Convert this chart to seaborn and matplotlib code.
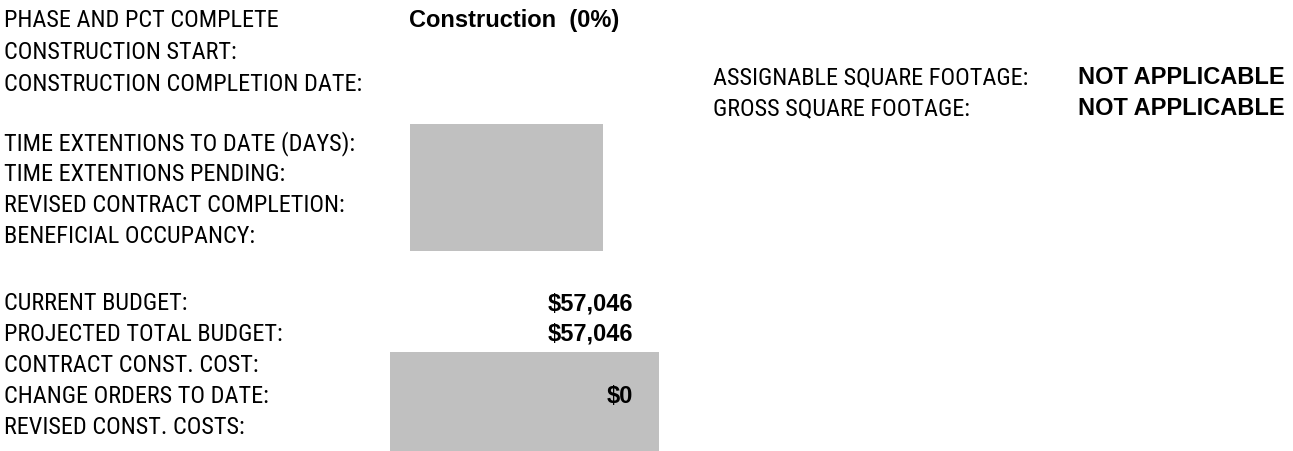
import matplotlib
matplotlib.use("Agg")
import matplotlib.pyplot as plt
from matplotlib import font_manager
import seaborn as sns

# form contents
phase_labels = ["PHASE AND PCT COMPLETE", "CONSTRUCTION START:", "CONSTRUCTION COMPLETION DATE:"]
phase_values = ["Construction  (0%)", "", ""]
time_labels = ["TIME EXTENTIONS TO DATE (DAYS):", "TIME EXTENTIONS PENDING:",
               "REVISED CONTRACT COMPLETION:", "BENEFICIAL OCCUPANCY:"]
budget_labels = ["CURRENT BUDGET:", "PROJECTED TOTAL BUDGET:", "CONTRACT CONST. COST:",
                 "CHANGE ORDERS TO DATE:", "REVISED CONST. COSTS:"]
budget_amounts = [57046, 57046, None, 0, None]
area_labels = ["ASSIGNABLE SQUARE FOOTAGE:", "GROSS SQUARE FOOTAGE:"]
area_values = ["NOT APPLICABLE", "NOT APPLICABLE"]

sns.set_theme(style="white")
plt.rcParams['font.family'] = ['Liberation Sans', 'DejaVu Sans']

names = {f.name for f in font_manager.fontManager.ttflist}
narrow = None
for cand in ["Liberation Sans Narrow", "Arial Narrow", "Roboto Condensed", "Open Sans Condensed"]:
    if cand in names:
        narrow = cand
        break
lab_family = [narrow, 'DejaVu Sans'] if narrow else ['DejaVu Sans']
val_kw = dict(family=['Liberation Sans', 'DejaVu Sans'], fontsize=17, fontweight='bold')

grey = "#C0C0C0"

fig = plt.figure(figsize=(12.93, 4.51), dpi=100)
ax = fig.add_axes([0, 0, 1, 1])
ax.set_xlim(0, 1293)
ax.set_ylim(451, 0)
ax.axis('off')

# size the condensed label font so the long label spans the same width as the reference
renderer = fig.canvas.get_renderer()
probe = ax.text(0, 0, "CONSTRUCTION COMPLETION DATE:", family=lab_family, fontsize=16)
w = probe.get_window_extent(renderer).width
probe.remove()
lab_kw = dict(family=lab_family, fontsize=16 * 358 / w)

# shaded entry boxes
ax.barh([187.5], [193], left=410, height=127, color=grey, linewidth=0)
ax.barh([401.5], [269], left=390, height=99, color=grey, linewidth=0)

def rows(labels, x, ys):
    for lab, y in zip(labels, ys):
        ax.text(x, y, lab, ha='left', va='baseline', color='black', **lab_kw)
    return ys

ys1 = rows(phase_labels, 4, [27, 59, 91])
for v, y in zip(phase_values, ys1):
    if v:
        ax.text(409, y, v, ha='left', va='baseline', color='black', **val_kw)

rows(time_labels, 4, [150 + 31 * i for i in range(len(time_labels))])

ys3 = rows(budget_labels, 4, [310 + 31 * i for i in range(len(budget_labels))])
for v, y in zip(budget_amounts, ys3):
    if v is not None:
        ax.text(633, y, f"${v:,.0f}", ha='right', va='baseline', color='black', **val_kw)

ys4 = rows(area_labels, 713, [84, 115])
for v, y in zip(area_values, ys4):
    ax.text(1078, y, v, ha='left', va='baseline', color='black', **val_kw)

fig.savefig("out.png", dpi=100, facecolor='white')
